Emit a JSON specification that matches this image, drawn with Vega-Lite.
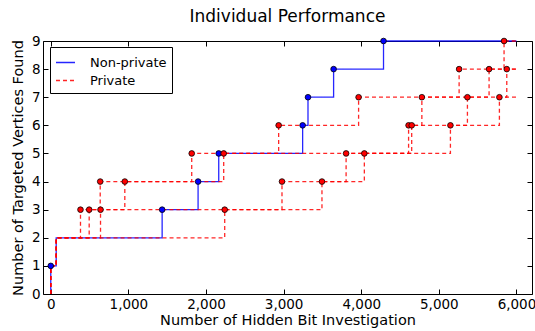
{
  "$schema": "https://vega.github.io/schema/vega-lite/v6.json",
  "width": 489,
  "height": 253,
  "autosize": {"type": "none"},
  "padding": {"left": 43, "top": 41, "right": 3, "bottom": 37},
  "background": "white",
  "title": {"text": "Individual Performance", "font": "DejaVu Sans", "fontSize": 17, "fontWeight": "normal", "color": "black", "offset": 8},
  "config": {
    "view": {"stroke": "black", "strokeWidth": 1},
    "font": "DejaVu Sans",
    "axis": {"grid": false, "domain": false, "ticks": true, "tickColor": "black", "tickSize": -5, "labelFont": "DejaVu Sans", "labelFontSize": 13.5, "labelColor": "black", "titleFont": "DejaVu Sans", "titleFontSize": 14.5, "titleFontWeight": "normal", "titleColor": "black"}
  },
  "data": {"values": [
    {"run": "N", "series": "Non-private", "x": 0, "y": 0},
    {"run": "N", "series": "Non-private", "x": 0, "y": 1},
    {"run": "N", "series": "Non-private", "x": 70, "y": 2},
    {"run": "N", "series": "Non-private", "x": 1435, "y": 3},
    {"run": "N", "series": "Non-private", "x": 1898, "y": 4},
    {"run": "N", "series": "Non-private", "x": 2164, "y": 5},
    {"run": "N", "series": "Non-private", "x": 3245, "y": 6},
    {"run": "N", "series": "Non-private", "x": 3314, "y": 7},
    {"run": "N", "series": "Non-private", "x": 3644, "y": 8},
    {"run": "N", "series": "Non-private", "x": 4287, "y": 9},
    {"run": "N", "series": "Non-private", "x": 6000, "y": 9},
    {"run": "P1", "series": "Private", "x": 0, "y": 0},
    {"run": "P1", "series": "Private", "x": 0, "y": 1},
    {"run": "P1", "series": "Private", "x": 70, "y": 2},
    {"run": "P1", "series": "Private", "x": 383, "y": 3},
    {"run": "P1", "series": "Private", "x": 637, "y": 4},
    {"run": "P1", "series": "Private", "x": 1816, "y": 5},
    {"run": "P1", "series": "Private", "x": 2936, "y": 6},
    {"run": "P1", "series": "Private", "x": 3966, "y": 7},
    {"run": "P1", "series": "Private", "x": 5261, "y": 8},
    {"run": "P1", "series": "Private", "x": 5840, "y": 9},
    {"run": "P1", "series": "Private", "x": 6000, "y": 9},
    {"run": "P2", "series": "Private", "x": 0, "y": 0},
    {"run": "P2", "series": "Private", "x": 0, "y": 1},
    {"run": "P2", "series": "Private", "x": 70, "y": 2},
    {"run": "P2", "series": "Private", "x": 495, "y": 3},
    {"run": "P2", "series": "Private", "x": 954, "y": 4},
    {"run": "P2", "series": "Private", "x": 2228, "y": 5},
    {"run": "P2", "series": "Private", "x": 4610, "y": 6},
    {"run": "P2", "series": "Private", "x": 4781, "y": 7},
    {"run": "P2", "series": "Private", "x": 5647, "y": 8},
    {"run": "P2", "series": "Private", "x": 6000, "y": 8},
    {"run": "P3", "series": "Private", "x": 0, "y": 0},
    {"run": "P3", "series": "Private", "x": 0, "y": 1},
    {"run": "P3", "series": "Private", "x": 70, "y": 2},
    {"run": "P3", "series": "Private", "x": 641, "y": 3},
    {"run": "P3", "series": "Private", "x": 2979, "y": 4},
    {"run": "P3", "series": "Private", "x": 4040, "y": 5},
    {"run": "P3", "series": "Private", "x": 4650, "y": 6},
    {"run": "P3", "series": "Private", "x": 5368, "y": 7},
    {"run": "P3", "series": "Private", "x": 5875, "y": 8},
    {"run": "P3", "series": "Private", "x": 6000, "y": 8},
    {"run": "P4", "series": "Private", "x": 0, "y": 0},
    {"run": "P4", "series": "Private", "x": 0, "y": 1},
    {"run": "P4", "series": "Private", "x": 70, "y": 2},
    {"run": "P4", "series": "Private", "x": 2241, "y": 3},
    {"run": "P4", "series": "Private", "x": 3494, "y": 4},
    {"run": "P4", "series": "Private", "x": 3805, "y": 5},
    {"run": "P4", "series": "Private", "x": 5149, "y": 6},
    {"run": "P4", "series": "Private", "x": 5780, "y": 7},
    {"run": "P4", "series": "Private", "x": 6000, "y": 7}
  ]},
  "layer": [
    {
      "mark": {"type": "line", "interpolate": "step-after", "strokeWidth": 1.3, "opacity": 0.85},
      "encoding": {
        "x": {"field": "x", "type": "quantitative", "scale": {"domain": [-100, 6200], "nice": false, "zero": false},
              "axis": {"orient": "bottom", "values": [0, 1000, 2000, 3000, 4000, 5000, 6000], "labelPadding": 8, "title": "Number of Hidden Bit Investigation", "titlePadding": 3, "labelFlush": false}},
        "y": {"field": "y", "type": "quantitative", "scale": {"domain": [0, 9], "nice": false},
              "axis": {"orient": "left", "values": [0, 1, 2, 3, 4, 5, 6, 7, 8, 9], "labelPadding": 8, "title": "Number of Targeted Vertices Found", "titlePadding": 6, "labelFlush": false}},
        "detail": {"field": "run"},
        "order": [{"field": "x"}, {"field": "y"}],
        "color": {"field": "series", "type": "nominal", "scale": {"domain": ["Non-private", "Private"], "range": ["#0000ff", "#ff0000"]},
                  "legend": {"title": null, "orient": "none", "legendX": 7, "legendY": 6, "symbolType": "stroke", "symbolSize": 361, "symbolStrokeWidth": 1.3, "labelFontSize": 13, "labelFont": "DejaVu Sans", "labelColor": "black", "labelOffset": 14, "rowPadding": -2, "padding": 5, "strokeColor": "black", "fillColor": "white", "cornerRadius": 0}},
        "strokeDash": {"field": "series", "type": "nominal", "scale": {"domain": ["Non-private", "Private"], "range": [[1, 0], [4, 3]]},
                  "legend": {"title": null, "orient": "none", "legendX": 7, "legendY": 6, "symbolType": "stroke", "symbolSize": 361, "symbolStrokeWidth": 1.3, "labelFontSize": 13, "labelFont": "DejaVu Sans", "labelColor": "black", "labelOffset": 14, "rowPadding": -2, "padding": 5, "strokeColor": "black", "fillColor": "white", "cornerRadius": 0}}
      }
    },
    {
      "transform": [{"filter": "(datum.y >= 3 && datum.x < 6000) || (datum.run == 'N' && datum.y == 1)"}],
      "mark": {"type": "point", "shape": "circle", "filled": true, "size": 32, "stroke": "black", "strokeWidth": 0.8, "opacity": 1},
      "encoding": {
        "x": {"field": "x", "type": "quantitative", "axis": {"orient": "top", "values": [0, 1000, 2000, 3000, 4000, 5000, 6000], "labels": false, "title": null}},
        "y": {"field": "y", "type": "quantitative", "axis": {"orient": "right", "values": [0, 1, 2, 3, 4, 5, 6, 7, 8, 9], "labels": false, "title": null}},
        "fill": {"field": "series", "type": "nominal", "scale": {"domain": ["Non-private", "Private"], "range": ["#0000ff", "#ff0000"]}, "legend": null}
      }
    }
  ],
  "resolve": {"axis": {"x": "independent", "y": "independent"}}
}
